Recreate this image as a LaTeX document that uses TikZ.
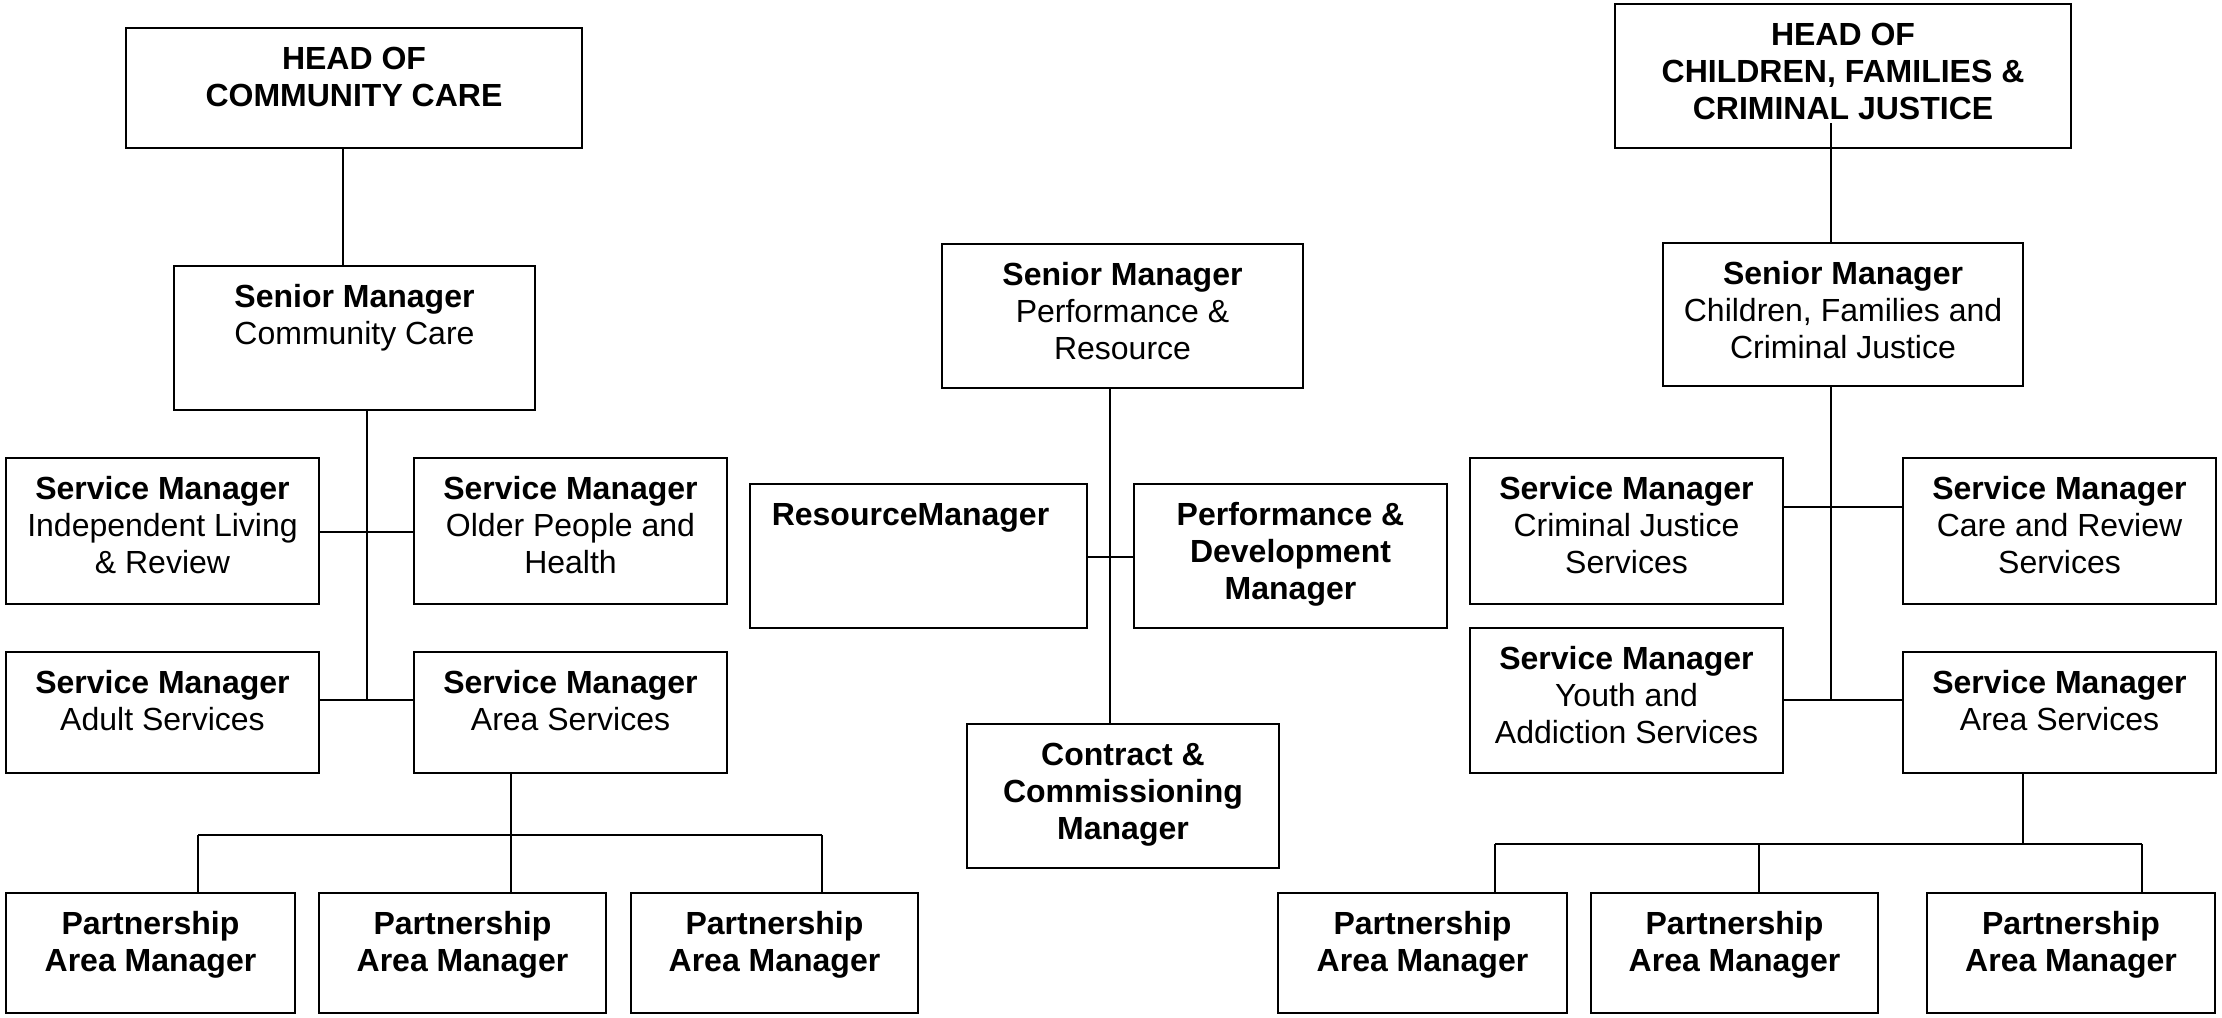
\documentclass[tikz,border=0pt]{standalone}
\usepackage{fontspec}
\setmainfont{Liberation Sans}
\usetikzlibrary{calc}

% One organisation box: name, left, top, right, bottom (pixel units), text.
% The text is set from the top of the box, one line every 9.25pt.
\newcommand\orgbox[6]{%
  \pgfmathsetmacro\obw{(#4-#2)*0.25}%
  \pgfmathsetmacro\obh{(#5-#3)*0.25}%
  \node[box, minimum width=\obw pt, minimum height=\obh pt, anchor=north west] (#1) at (#2,#3)
    {\parbox[t][\obh pt][t]{\obw pt}{\centering\vspace*{4pt}\strut #6}};%
}

\tikzset{
  box/.style={draw=black, line width=0.55pt, fill=white, inner sep=0pt, outer sep=0pt,
              font=\fontsize{8pt}{9.25pt}\selectfont},
  link/.style={draw=black, line width=0.45pt}
}

\begin{document}
\begin{tikzpicture}[x=0.25pt, y=-0.25pt]
  \fill[white] (0,0) rectangle (2222,1017);
  \useasboundingbox (0,0) rectangle (2222,1017);

  % ---------- Community Care ----------
  \orgbox{headcc}{126}{28}{582}{148}{\textbf{HEAD OF\\COMMUNITY CARE}}
  \orgbox{seniorcc}{174}{266}{535}{410}{\textbf{Senior Manager}\\Community Care}
  \orgbox{smil}{6}{458}{319}{604}{\textbf{Service Manager}\\Independent Living\\\& Review}
  \orgbox{smop}{414}{458}{727}{604}{\textbf{Service Manager}\\Older People and\\Health}
  \orgbox{smad}{6}{652}{319}{773}{\textbf{Service Manager}\\Adult Services}
  \orgbox{smas}{414}{652}{727}{773}{\textbf{Service Manager}\\Area Services}
  \orgbox{pam1}{6}{893}{295}{1013}{\textbf{Partnership\\Area Manager}}
  \orgbox{pam2}{319}{893}{606}{1013}{\textbf{Partnership\\Area Manager}}
  \orgbox{pam3}{631}{893}{918}{1013}{\textbf{Partnership\\Area Manager}}

  % ---------- Performance & Resource ----------
  \orgbox{seniorpr}{942}{244}{1303}{388}{\textbf{Senior Manager}\\Performance \&\\Resource}
  \orgbox{rm}{750}{484}{1087}{628}{\textbf{ResourceManager}\hspace*{4pt}}
  \orgbox{pd}{1134}{484}{1447}{628}{\textbf{Performance \&\\Development\\Manager}}
  \orgbox{ccm}{967}{724}{1279}{868}{\textbf{Contract \&\\Commissioning\\Manager}}

  % ---------- Children, Families & Criminal Justice ----------
  \orgbox{headcf}{1615}{4}{2071}{148}{\textbf{HEAD OF\\CHILDREN, FAMILIES \&\\CRIMINAL JUSTICE}}
  \orgbox{seniorcf}{1663}{243}{2023}{386}{\textbf{Senior Manager}\\Children, Families and\\Criminal Justice}
  \orgbox{smcj}{1470}{458}{1783}{604}{\textbf{Service Manager}\\Criminal Justice\\Services}
  \orgbox{smcr}{1903}{458}{2216}{604}{\textbf{Service Manager}\\Care and Review\\Services}
  \orgbox{smya}{1470}{628}{1783}{773}{\textbf{Service Manager}\\Youth and\\Addiction Services}
  \orgbox{smas2}{1903}{652}{2216}{773}{\textbf{Service Manager}\\Area Services}
  \orgbox{pam4}{1278}{893}{1567}{1013}{\textbf{Partnership\\Area Manager}}
  \orgbox{pam5}{1591}{893}{1878}{1013}{\textbf{Partnership\\Area Manager}}
  \orgbox{pam6}{1927}{893}{2215}{1013}{\textbf{Partnership\\Area Manager}}

  % ---------- junction points ----------
  \coordinate (ltop) at (343,0);
  \coordinate (lj1) at (367,532);
  \coordinate (lj2) at (367,700);
  \coordinate (lbar) at (511,835);
  \coordinate (lb1) at (198,835);
  \coordinate (lb3) at (822,835);
  \coordinate (mj) at (1110,557);
  \coordinate (rtop) at (1831,123);
  \coordinate (rj1) at (1831,507);
  \coordinate (rj2) at (1831,700);
  \coordinate (rbar) at (2023,844);
  \coordinate (rb1) at (1495,844);
  \coordinate (rb2) at (1759,844);
  \coordinate (rb3) at (2142,844);

  % ---------- connectors: Community Care ----------
  \draw[link] (headcc.south -| ltop) -- (seniorcc.north -| ltop);
  \draw[link] (seniorcc.south -| lj1) -- (lj2);
  \draw[link] (smil.east |- lj1) -- (smop.west |- lj1);
  \draw[link] (smad.east |- lj2) -- (smas.west |- lj2);
  \draw[link] (smas.south -| lbar) -- (lbar);
  \draw[link] (lb1) -- (lb3);
  \draw[link] (lb1) -- (pam1.north -| lb1);
  \draw[link] (lbar) -- (pam2.north -| lbar);
  \draw[link] (lb3) -- (pam3.north -| lb3);

  % ---------- connectors: Performance & Resource ----------
  \draw[link] (seniorpr.south -| mj) -- (ccm.north -| mj);
  \draw[link] (rm.east |- mj) -- (pd.west |- mj);

  % ---------- connectors: Children, Families & Criminal Justice ----------
  \draw[link] (rtop) -- (seniorcf.north -| rtop);
  \draw[link] (seniorcf.south -| rj1) -- (rj2);
  \draw[link] (smcj.east |- rj1) -- (smcr.west |- rj1);
  \draw[link] (smya.east |- rj2) -- (smas2.west |- rj2);
  \draw[link] (smas2.south -| rbar) -- (rbar);
  \draw[link] (rb1) -- (rb3);
  \draw[link] (rb1) -- (pam4.north -| rb1);
  \draw[link] (rb2) -- (pam5.north -| rb2);
  \draw[link] (rb3) -- (pam6.north -| rb3);
\end{tikzpicture}
\end{document}
